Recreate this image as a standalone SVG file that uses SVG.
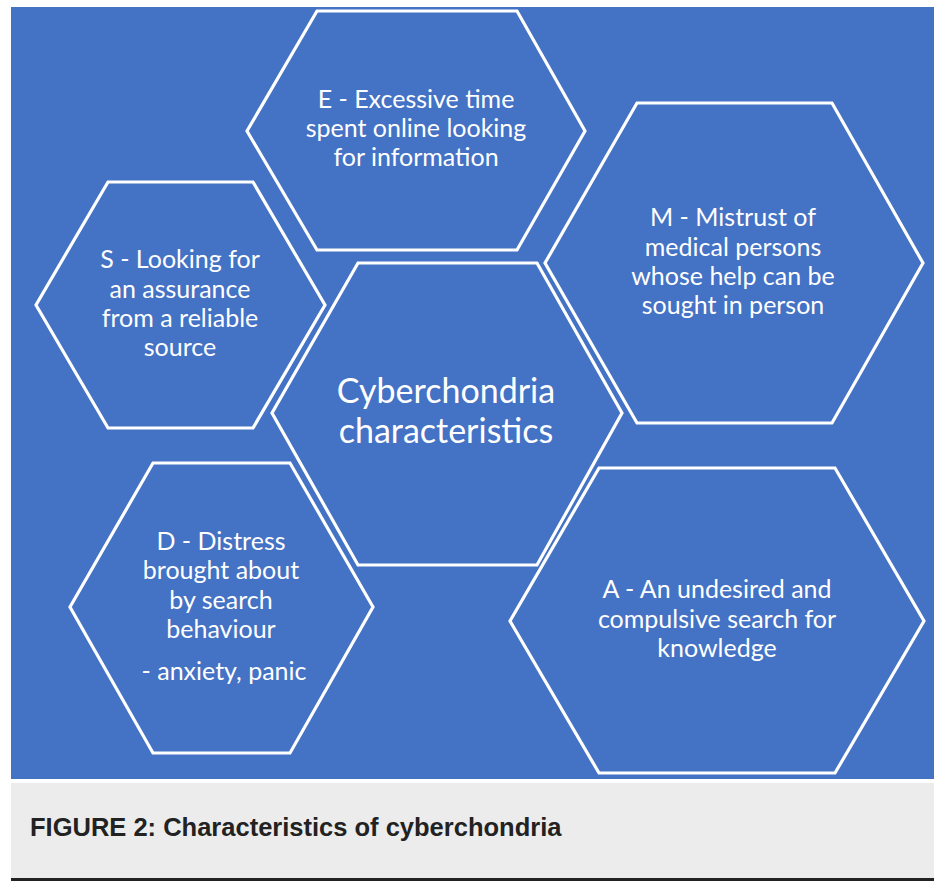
<svg xmlns="http://www.w3.org/2000/svg" width="934" height="881" viewBox="0 0 934 881">
<style>
.hex{fill:none;stroke:#ffffff;stroke-width:3.2;stroke-linejoin:miter}
.t{font-family:Lato,"Open Sans","Liberation Sans",sans-serif;font-size:25px;fill:#ffffff;text-anchor:middle}
.big{font-size:34px}
.cap{font-family:"Liberation Sans",Arial,sans-serif;font-size:25.5px;font-weight:bold;fill:#222222}
</style>
<rect x="0" y="0" width="934" height="881" fill="#ffffff"/>
<rect x="11" y="7" width="923" height="772" fill="#4472c4"/>
<rect x="11" y="783" width="923" height="95" fill="#ececec"/>
<rect x="11" y="878" width="923" height="3" fill="#222222"/>
<g id="connectors"></g>
<g id="node-E">
<polygon class="hex" points="317,11 517,11 585,131 517,250 317,250 247,131"/>
<text class="t" x="416" y="108">E - Excessive time</text>
<text class="t" x="416" y="137">spent online looking</text>
<text class="t" x="416" y="166">for information</text>
</g>
<g id="node-M">
<polygon class="hex" points="637,103 832,103 923,263 832,423 637,423 545,263"/>
<text class="t" x="733" y="226">M - Mistrust of</text>
<text class="t" x="733" y="256">medical persons</text>
<text class="t" x="733" y="285">whose help can be</text>
<text class="t" x="733" y="314">sought in person</text>
</g>
<g id="node-S">
<polygon class="hex" points="108,182 253,182 325,305 253,428 108,428 36,305"/>
<text class="t" x="180" y="268">S - Looking for</text>
<text class="t" x="180" y="298">an assurance</text>
<text class="t" x="180" y="327">from a reliable</text>
<text class="t" x="180" y="356">source</text>
</g>
<g id="node-center">
<polygon class="hex" points="358,263 537,263 622,413 537,565 358,565 272,413"/>
<text class="t big" x="446" y="403">Cyberchondria</text>
<text class="t big" x="446" y="443">characteristics</text>
</g>
<g id="node-D">
<polygon class="hex" points="153,463 290,463 373,607 290,753 153,753 70,607"/>
<text class="t" x="221" y="550">D - Distress</text>
<text class="t" x="221" y="579">brought about</text>
<text class="t" x="221" y="609">by search</text>
<text class="t" x="221" y="638">behaviour</text>
<text class="t" x="224" y="680">- anxiety, panic</text>
</g>
<g id="node-A">
<polygon class="hex" points="599,468 835,468 924,621 835,773 599,773 510,621"/>
<text class="t" x="717" y="598">A - An undesired and</text>
<text class="t" x="717" y="628">compulsive search for</text>
<text class="t" x="717" y="657">knowledge</text>
</g>
<text class="cap" x="30" y="836">FIGURE 2: Characteristics of cyberchondria</text>
</svg>
